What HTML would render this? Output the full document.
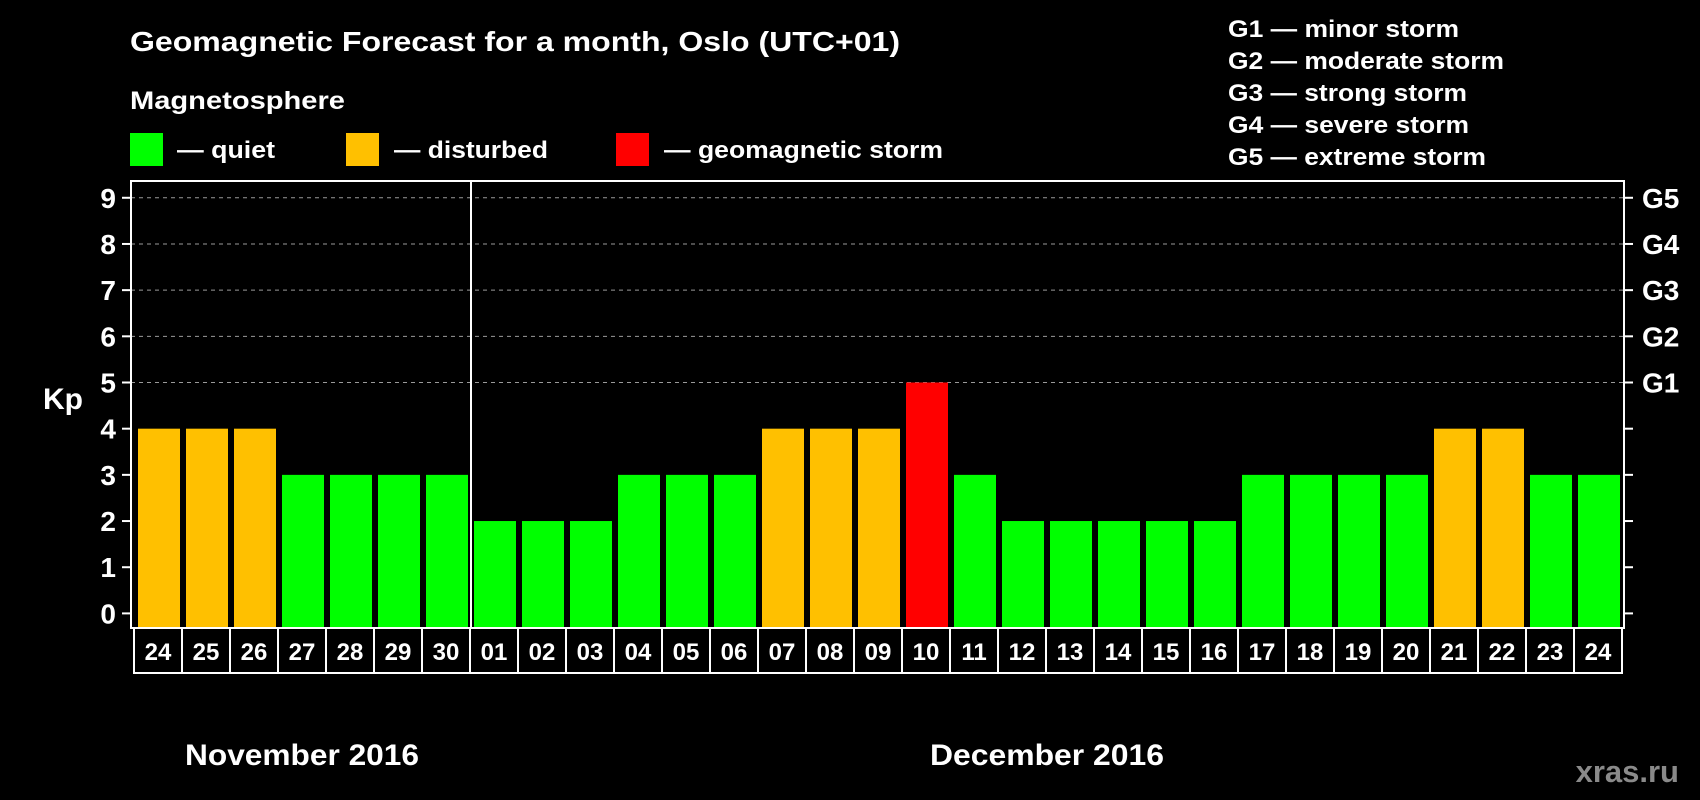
<!DOCTYPE html>
<html><head><meta charset="utf-8"><style>
html,body{margin:0;padding:0;background:#000;}
svg{display:block;}
text{font-family:"Liberation Sans",sans-serif;font-weight:bold;fill:#fff;}
</style></head><body>
<svg id="chart" width="1700" height="800" viewBox="0 0 1700 800" xmlns="http://www.w3.org/2000/svg">
<rect x="0" y="0" width="1700" height="800" fill="#000"/>
<text x="130" y="51" font-size="28" textLength="770" lengthAdjust="spacingAndGlyphs">Geomagnetic Forecast for a month, Oslo (UTC+01)</text>
<text x="130" y="109" font-size="25" textLength="215" lengthAdjust="spacingAndGlyphs">Magnetosphere</text>
<g>
<rect x="130" y="133" width="33" height="33" fill="#00ff00"/>
<text x="177" y="158" font-size="24" textLength="98" lengthAdjust="spacingAndGlyphs">— quiet</text></g>
<g>
<rect x="346" y="133" width="33" height="33" fill="#ffc000"/>
<text x="394" y="158" font-size="24" textLength="154" lengthAdjust="spacingAndGlyphs">— disturbed</text></g>
<g>
<rect x="616" y="133" width="33" height="33" fill="#ff0000"/>
<text x="664" y="158" font-size="24" textLength="279" lengthAdjust="spacingAndGlyphs">— geomagnetic storm</text></g>
<g>
<text x="1228" y="37" font-size="24" textLength="231" lengthAdjust="spacingAndGlyphs">G1 — minor storm</text>
<text x="1228" y="69" font-size="24" textLength="276" lengthAdjust="spacingAndGlyphs">G2 — moderate storm</text>
<text x="1228" y="101" font-size="24" textLength="239" lengthAdjust="spacingAndGlyphs">G3 — strong storm</text>
<text x="1228" y="133" font-size="24" textLength="241" lengthAdjust="spacingAndGlyphs">G4 — severe storm</text>
<text x="1228" y="165" font-size="24" textLength="258" lengthAdjust="spacingAndGlyphs">G5 — extreme storm</text>
</g>
<text x="63" y="409" font-size="30" text-anchor="middle">Kp</text>
<text x="302" y="765" font-size="30" text-anchor="middle" textLength="234" lengthAdjust="spacingAndGlyphs">November 2016</text>
<text x="1047" y="765" font-size="30" text-anchor="middle" textLength="234" lengthAdjust="spacingAndGlyphs">December 2016</text>
<text x="1679" y="782" font-size="31" text-anchor="end" style="fill:#8a8a8a">xras.ru</text>
</svg>
<script>
const days = ["24","25","26","27","28","29","30","01","02","03","04","05","06","07","08","09","10","11","12","13","14","15","16","17","18","19","20","21","22","23","24"];
const kpValues = [4,4,4,3,3,3,3,2,2,2,3,3,3,4,4,4,5,3,2,2,2,2,2,3,3,3,3,4,4,3,3];
const yTicks = [0,1,2,3,4,5,6,7,8,9];
const gridValues = [5,6,7,8,9];
const gLabels = ["G1","G2","G3","G4","G5"];

const NS = "http://www.w3.org/2000/svg";
const svg = document.getElementById("chart");
const plotL = 131, plotR = 1624, plotT = 181, plotB = 628;
const y0 = 613.4, unit = 46.18;
const yScale = v => y0 - v * unit;
const pitch = 48, barW = 42, firstX = 138;
const xScale = i => firstX + i * pitch;
function mk(tag, attrs, parent) {
  const e = document.createElementNS(NS, tag);
  for (const k in attrs) e.setAttribute(k, attrs[k]);
  (parent || svg).appendChild(e);
  return e;
}
const colorFor = v => v >= 5 ? "#ff0000" : (v >= 4 ? "#ffc000" : "#00ff00");

gridValues.forEach(v => {
  const l = mk("line", {x1: plotL, x2: plotR, y1: yScale(v), y2: yScale(v), stroke: "#9a9a9a", "stroke-width": 1, "stroke-dasharray": "4,4"});
  
  
});
kpValues.forEach((v, i) => {
  const r = mk("rect", {x: xScale(i), y: yScale(v), width: barW, height: plotB - 1 - yScale(v), fill: colorFor(v)});
  
  
});
const fr = mk("rect", {x: plotL, y: plotT, width: plotR - plotL, height: plotB - plotT, fill: "none", stroke: "#fff", "stroke-width": 2});


const sepX = (xScale(6) + barW + xScale(7)) / 2;
const sep = mk("line", {x1: sepX, x2: sepX, y1: plotT, y2: plotB, stroke: "#fff", "stroke-width": 2});


yTicks.forEach(v => {
  const y = yScale(v);
  mk("line", {x1: plotL - 9, x2: plotL, y1: y, y2: y, stroke: "#fff", "stroke-width": 2});
  mk("line", {x1: plotR, x2: plotR + 9, y1: y, y2: y, stroke: "#fff", "stroke-width": 2});
  const t = mk("text", {x: 116, y: y + 10, "font-size": 28, "text-anchor": "end"});
  t.textContent = v;
  
  
});
gLabels.forEach((g, i) => {
  const t = mk("text", {x: 1642, y: yScale(gridValues[i]) + 10, "font-size": 28});
  t.textContent = g;
  
  
});
days.forEach((d, i) => {
  const bx = xScale(i) - 4;
  const r = mk("rect", {x: bx, y: plotB, width: pitch, height: 45, fill: "none", stroke: "#fff", "stroke-width": 2});
  
  
  const t = mk("text", {x: bx + pitch / 2, y: plotB + 32, "font-size": 24, "text-anchor": "middle"});
  t.textContent = d;
  
  
});
</script>
</body></html>
